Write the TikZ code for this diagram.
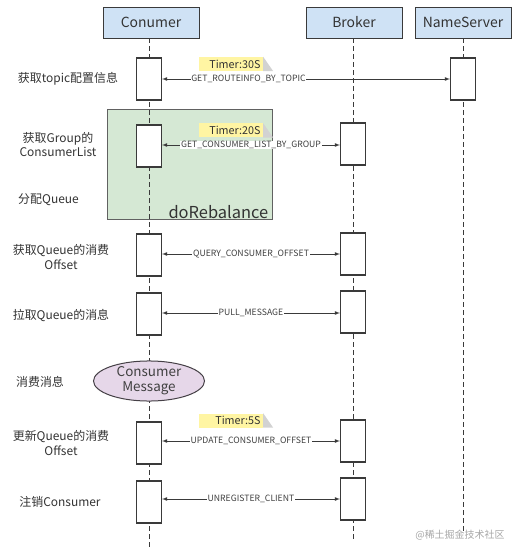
\documentclass[tikz,border=0pt]{standalone}
\usepackage{fontspec}
\setmainfont{Noto Sans CJK SC}
\usetikzlibrary{shapes.geometric}
\definecolor{headBlue}{HTML}{CFE2F5}
\definecolor{rebGreen}{HTML}{D5E8D4}
\definecolor{msgPurple}{HTML}{E6D7E9}
\definecolor{noteYellow}{HTML}{FFF5A3}
\definecolor{noteFold}{HTML}{D2D2D2}
\definecolor{lineGray}{HTML}{3A3A3A}
\tikzstyle{headBox}=[draw = lineGray, fill = headBlue, line width = 0.9bp, minimum width = 96bp, minimum height = 31bp, inner sep = 0pt, font = \fontsize{14}{15}\selectfont, text = black!80]
\tikzstyle{actBox}=[draw = lineGray, fill = white, line width = 1.1bp, minimum width = 25bp, minimum height = 42bp, inner sep = 0pt]
\tikzstyle{lifeLine}=[draw = lineGray, line width = 1bp, dash pattern = on 5bp off 3bp]
\tikzstyle{msgArrow}=[<->, >=latex, draw = lineGray, line width = 0.8bp]
\tikzstyle{msgLabel}=[fill = white, inner sep = 0.6bp, font = \fontsize{8.7}{9}\selectfont, text = black!75]
\tikzstyle{stepLabel}=[align = center, font = \fontsize{12}{14.5}\selectfont, text = black!80]
\tikzstyle{timerNote}=[fill = noteYellow, minimum height = 14bp, text width = 59bp, align = right, inner xsep = 2.5bp, inner ysep = 0pt, font = \fontsize{10.8}{11}\selectfont, text = black!80]

\begin{document}
\begin{tikzpicture}[x = 1bp, y = -1bp]
\useasboundingbox (0,0) rectangle (525,556);
% rebalance group
\node[draw = lineGray!80, fill = rebGreen, line width = 0.9bp, minimum width = 165bp, minimum height = 110bp, inner sep = 0pt] (rebalance) at (189.5,164) {};
\node[anchor = south east, inner xsep = 4bp, inner ysep = 1bp, font = \fontsize{16.5}{17}\selectfont, text = black!80] (rebalanceText) at (rebalance.south east) {doRebalance};
% headers and lifelines
\node[headBox] (consumer) at (151,22.5) {Conumer};
\node[headBox] (broker) at (354,22.5) {Broker};
\node[headBox] (nameserver) at (463,22.5) {NameServer};
\coordinate (consumerEnd) at (149,549);
\coordinate (brokerEnd) at (353,540);
\coordinate (nameserverEnd) at (463,531);
\draw[lifeLine] (consumer.south -| consumerEnd) -- (consumerEnd);
\draw[lifeLine] (broker.south -| brokerEnd) -- (brokerEnd);
\draw[lifeLine] (nameserver.south -| nameserverEnd) -- (nameserverEnd);
% activations
\node[actBox] (c1) at (149,79) {};
\node[actBox] (n1) at (463,79) {};
\node[actBox] (c2) at (149,146) {};
\node[actBox] (b2) at (353,144) {};
\node[actBox] (c3) at (149,255) {};
\node[actBox] (b3) at (353,254) {};
\node[actBox] (c4) at (149,314) {};
\node[actBox] (b4) at (353,312) {};
\node[actBox] (c6) at (149,443) {};
\node[actBox] (b6) at (353,441) {};
\node[actBox] (c7) at (149,502) {};
\node[actBox] (b7) at (353,499) {};
% consume
\node[ellipse, draw = black!70!msgPurple, fill = msgPurple, line width = 1bp, minimum width = 111bp, minimum height = 38bp, inner sep = 0pt, align = center, font = \fontsize{13.5}{15}\selectfont, text = black!75] (consume) at (149,381) {Consumer\\Message};
% messages
\draw[msgArrow] (c1.east) -- node[msgLabel, pos = 0.3] {GET\_ROUTEINFO\_BY\_TOPIC} (c1.east -| n1.west);
\draw[msgArrow] (c2.east |- 0,145) -- node[msgLabel] {GET\_CONSUMER\_LIST\_BY\_GROUP} (b2.west |- 0,145);
\draw[msgArrow] (c3.east |- 0,254) -- node[msgLabel] {QUERY\_CONSUMER\_OFFSET} (b3.west |- 0,254);
\draw[msgArrow] (c4.east |- 0,313) -- node[msgLabel] {PULL\_MESSAGE} (b4.west |- 0,313);
\draw[msgArrow] (c6.east |- 0,441) -- node[msgLabel] {UPDATE\_CONSUMER\_OFFSET} (b6.west |- 0,441);
\draw[msgArrow] (c7.east |- 0,499) -- node[msgLabel] {UNREGISTER\_CLIENT} (b7.west |- 0,499);
% timers
\node[timerNote] (timer1) at (231,64) {Timer:30S};
\node[timerNote] (timer2) at (231,130.5) {Timer:20S};
\node[timerNote] (timer6) at (231,420.5) {Timer:5S};
\fill[noteFold] (timer1.north east) -- (timer1.south east) -- ([xshift = 10bp]timer1.south east) -- cycle;
\fill[noteFold] (timer2.north east) -- (timer2.south east) -- ([xshift = 10bp]timer2.south east) -- cycle;
\fill[noteFold] (timer6.north east) -- (timer6.south east) -- ([xshift = 10bp]timer6.south east) -- cycle;
% steps
\node[stepLabel] (s1) at (68,79) {获取topic配置信息};
\node[stepLabel] (s2) at (58,144.5) {获取Group的\\ConsumerList};
\node[stepLabel] (s3) at (48.5,200) {分配Queue};
\node[stepLabel] (s4) at (61,257) {获取Queue的消费\\Offset};
\node[stepLabel] (s5) at (61,316) {拉取Queue的消息};
\node[stepLabel] (s6) at (40,382) {消费消息};
\node[stepLabel] (s7) at (61,443) {更新Queue的消费\\Offset};
\node[stepLabel] (s8) at (60,502) {注销Consumer};
\node[anchor = east, font = \fontsize{10}{10}\selectfont, text = black!35] (mark) at (508,535) {@稀土掘金技术社区};
\end{tikzpicture}
\end{document}
